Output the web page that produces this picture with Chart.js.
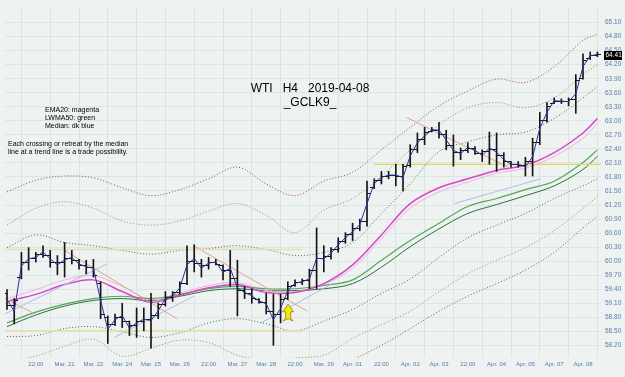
<!DOCTYPE html>
<html><head><meta charset="utf-8">
<script src="https://cdn.jsdelivr.net/npm/chart.js@4.4.1/dist/chart.umd.min.js"></script>
<style>html,body{margin:0;padding:0;background:#eef2f1;overflow:hidden}canvas{display:block}</style>
</head><body>
<canvas id="c" width="625" height="377"></canvas>
<script>
// ---- Price bars (H4), index 0..82 ----
const highs = [59.39,59.20,60.19,60.29,60.19,60.33,60.23,60.12,60.40,60.23,
 60.04,60.02,60.04,59.56,58.83,58.87,59.10,58.72,59.00,59.00,
 59.31,59.10,59.35,59.35,59.56,60.33,60.35,60.04,60.08,60.04,
 59.92,60.23,60.02,59.46,59.41,59.20,59.31,59.29,59.29,59.56,
 59.60,59.62,59.83,60.71,60.33,60.29,60.50,60.61,60.81,60.90,
 61.71,61.76,61.92,61.92,62.07,62.07,62.49,62.74,62.86,62.86,
 62.97,62.80,62.70,62.42,62.53,62.45,62.38,62.76,62.74,62.32,
 62.13,62.13,62.22,62.63,63.18,63.39,63.49,63.47,63.49,63.99,
 64.43,64.47,64.47];
const lows = [58.97,58.66,59.62,59.81,59.98,60.08,59.87,59.71,59.66,59.94,
 59.83,59.73,59.66,58.77,58.24,58.62,58.58,58.41,58.37,58.51,
 58.14,58.77,59.04,59.14,59.29,59.50,59.77,59.66,59.83,59.92,
 59.60,59.46,58.83,59.20,59.10,59.10,58.87,58.20,58.68,59.18,
 59.46,59.50,59.41,59.41,59.77,60.04,60.19,60.38,60.44,60.65,
 60.75,61.55,61.65,61.76,61.61,61.50,62.01,62.32,62.49,62.76,
 62.63,62.38,62.03,62.17,62.32,62.28,62.13,62.07,61.92,62.01,
 62.01,62.01,61.82,61.82,62.49,62.97,63.37,63.37,63.32,63.16,
 63.89,64.31,64.37];
const opens = [59.30,59.05,59.65,59.97,60.06,60.14,60.12,59.98,59.97,60.05,
 60.01,59.91,59.86,59.52,58.80,58.65,58.80,58.70,58.62,58.72,
 58.75,58.83,59.07,59.22,59.34,59.52,59.99,59.95,59.90,59.97,
 59.90,59.80,59.64,59.38,59.30,59.18,59.12,58.92,58.87,59.20,
 59.47,59.55,59.59,59.80,60.05,60.11,60.26,60.43,60.56,60.70,
 60.85,61.58,61.72,61.81,61.84,61.81,62.05,62.39,62.60,62.78,
 62.80,62.70,62.48,62.33,62.37,62.40,62.31,62.34,62.38,62.25,
 62.12,62.07,62.05,62.12,62.53,63.01,63.38,63.42,63.41,63.45,
 63.90,64.33,64.40];
const closes = [59.05,59.15,59.97,60.06,60.14,60.12,59.98,59.97,60.05,60.01,
 59.91,59.86,59.70,58.85,58.65,58.80,58.70,58.62,58.72,58.75,
 58.83,59.07,59.22,59.34,59.52,59.99,59.95,59.90,59.97,59.93,
 59.80,59.64,59.38,59.30,59.20,59.12,58.92,58.87,59.18,59.45,
 59.55,59.59,59.80,60.05,60.11,60.26,60.43,60.56,60.70,60.85,
 61.45,61.72,61.81,61.84,61.81,62.02,62.39,62.60,62.75,62.80,
 62.70,62.48,62.33,62.37,62.40,62.31,62.34,62.38,62.25,62.12,
 62.07,62.05,62.12,62.53,63.01,63.30,63.42,63.41,63.45,63.87,
 64.28,64.40,64.41];
const medians = [59.18,58.93,59.90,60.05,60.08,60.20,60.05,59.92,60.03,60.08,
 59.94,59.88,59.85,59.16,58.54,58.75,58.84,58.57,58.68,58.76,
 58.73,58.94,59.20,59.25,59.43,59.92,60.06,59.85,59.96,59.98,
 59.76,59.85,59.43,59.33,59.26,59.15,59.09,58.75,58.99,59.37,
 59.53,59.56,59.62,60.06,60.05,60.17,60.35,60.50,60.63,60.78,
 61.23,61.66,61.79,61.84,61.84,61.79,62.25,62.53,62.68,62.81,
 62.80,62.59,62.37,62.30,62.43,62.37,62.26,62.42,62.33,62.17,
 62.07,62.07,62.02,62.23,62.84,63.18,63.43,63.42,63.41,63.58,
 64.16,64.39,64.42];

// ---- Indicator lines, sampled at these bar indices ----
const bandIdx = [0,4,8,12,16,20,24,28,32,36,40,44,48,52,56,60,64,68,72,76,80,82];
const upper3 = [61.48,61.73,61.82,61.78,61.57,61.40,61.53,61.76,62.01,61.65,61.40,61.71,61.90,62.38,62.86,63.32,63.64,63.89,63.82,64.16,64.72,64.85];
const upper2 = [60.77,61.13,61.27,61.13,60.86,60.77,60.86,61.07,61.23,60.98,60.61,61.09,61.34,61.82,62.38,62.91,63.28,63.39,63.28,63.49,63.99,64.20];
const upper1 = [60.29,60.56,60.40,60.33,60.23,60.15,60.23,60.27,60.33,60.25,60.12,60.19,60.40,61.02,61.65,62.34,62.55,62.70,62.76,63.05,63.49,63.74];
const ema20  = [59.14,59.29,59.50,59.60,59.35,59.12,59.27,59.43,59.50,59.33,59.33,59.52,59.92,60.56,61.23,61.57,61.76,61.94,62.05,62.32,62.74,63.05];
const ema20b = [59.20,59.39,59.60,59.69,59.46,59.18,59.31,59.48,59.54,59.37,59.35,59.50,59.85,60.48,61.13,61.48,61.69,61.88,61.99,62.24,62.63,62.95];
const lwma50 = [58.68,58.91,59.08,59.20,59.25,59.20,59.29,59.41,59.46,59.41,59.41,59.48,59.60,60.02,60.44,60.81,61.17,61.34,61.53,61.71,62.11,62.38];
const lwma50b= [58.60,58.85,59.04,59.16,59.20,59.16,59.25,59.37,59.41,59.37,59.37,59.41,59.52,59.87,60.31,60.69,61.02,61.21,61.40,61.61,61.96,62.24];
const lower1 = [58.39,58.41,58.56,58.60,58.49,58.37,58.47,58.68,58.77,58.66,58.51,58.72,58.97,59.31,59.62,60.08,60.50,60.77,61.02,61.34,61.61,61.76];
const lower2 = [57.85,57.97,58.18,58.33,57.97,58.14,58.31,58.26,57.99,57.89,57.93,57.99,58.35,58.64,58.93,59.35,59.73,60.02,60.29,60.65,61.13,61.38];
const lower3 = [57.37,57.37,57.57,57.68,57.37,57.47,57.64,57.68,57.37,57.26,57.37,57.57,57.89,58.20,58.56,58.93,59.25,59.52,59.81,60.19,60.71,60.96];

// ---- Trend lines: [startIndex, startPrice, endIndex, endPrice] ----
const salmonTrends = [[-0.3,59.20,3.9,58.87],[8.0,60.23,23.6,58.77],[25.9,60.33,41.7,58.93],[55.5,63.07,69.6,62.01]];
const blueTrends   = [[-0.3,58.87,13.9,59.94],[14.9,58.37,25.9,59.25],[35.3,58.68,45.2,59.52],[62.1,61.23,74.1,61.76]];
const levelLines   = [[-0.3,60.25,41.0,60.25],[-0.3,58.51,41.0,58.51]];
const levelLinesYellow = [[51.0,62.07,83.0,62.07]];

// ---- Axes ----
const xTickIdx = [4,8,12,16,20,24,28,32,36,40,44,48,52,56,60,64,68,72,76,80];
const xTickLabels = ["22:00","Mar. 21","Mar. 22","Mar. 24","Mar. 25","Mar. 26","22:00","Mar. 27","Mar. 28","22:00",
 "Mar. 29","Apr. 01","22:00","Apr. 02","Apr. 03","22:00","Apr. 04","Apr. 05","Apr. 07","Apr. 08"];
const yTicks = [58.20,58.50,58.80,59.10,59.40,59.70,60.00,60.30,60.60,60.90,61.20,61.50,61.80,62.10,62.40,62.70,63.00,63.30,63.60,63.90,64.20,64.50,64.80,65.10];
const lastPrice = 64.41;
const arrowIdx = 39.05, arrowTop = 59.08, arrowBottom = 58.72;

// ---- helpers ----
const pts = (xs, ys) => xs.map((x, i) => ({x: x, y: ys[i]}));
function tickImg(left) {
  const c = document.createElement('canvas'); c.width = 8; c.height = 1;
  const g = c.getContext('2d'); g.fillStyle = '#151515';
  g.fillRect(left ? 0 : 4, 0, 4, 1); return c;
}
const openImg = tickImg(true), closeImg = tickImg(false);

function band(data, color, order) {
  return {type:'line', data: pts(bandIdx, data), borderColor: color, borderWidth: 1, borderDash:[1,2],
    pointRadius:0, tension:0.35, fill:false, order: order};
}
function solid(data, color, width, order) {
  return {type:'line', data: pts(bandIdx, data), borderColor: color, borderWidth: width,
    pointRadius:0, tension:0.35, fill:false, order: order};
}
function segs(list, color, width) {
  return list.map(s => ({type:'line', data:[{x:s[0],y:s[1]},{x:s[2],y:s[3]}], borderColor: color,
    borderWidth: width, pointRadius:0, fill:false, order: 12}));
}

const datasets = [
  band(upper3, '#9a4a48', 20), band(upper2, '#7f9a5c', 20), band(upper1, '#3f7a3f', 20),
  band(lower1, '#3f7a3f', 20), band(lower2, '#7f9a5c', 20), band(lower3, '#9a4a48', 20),
  solid(ema20b, '#eeb0ea', 1, 15), solid(ema20, '#d846c8', 1.5, 14),
  solid(lwma50b, '#2f6f3a', 1, 15), solid(lwma50, '#55a855', 1.2, 14),
  ...segs(levelLines, '#eadfa8', 1.5), ...segs(levelLinesYellow, '#e2d560', 1.3),
  ...segs(salmonTrends, '#e3a193', 1), ...segs(blueTrends, '#aebde8', 1),
  {type:'bar', data: highs.map((h, i) => ({x:i, y:[lows[i], h]})), backgroundColor:'#151515',
    barThickness:1, grouped:false, order:5},
  {type:'line', data: opens.map((v, i) => ({x:i, y:v})), showLine:false, pointStyle: openImg, pointRadius:4, order:4},
  {type:'line', data: closes.map((v, i) => ({x:i, y:v})), showLine:false, pointStyle: closeImg, pointRadius:4, order:4},
  {type:'line', data: medians.map((v, i) => ({x:i, y:v})), borderColor:'#2b2f9c', borderWidth:1, pointRadius:0, tension:0, order:3}
];

const decor = {
  id:'decor',
  beforeDraw(chart) {
    const ctx = chart.ctx; ctx.save(); ctx.fillStyle = '#eef2f1'; ctx.fillRect(0, 0, chart.width, chart.height); ctx.restore();
  },
  afterDraw(chart) {
    const ctx = chart.ctx, xs = chart.scales.x, ys = chart.scales.y;
    ctx.save();
    // arrow
    const ax = xs.getPixelForValue(arrowIdx), at = ys.getPixelForValue(arrowTop), ab = ys.getPixelForValue(arrowBottom);
    const h = ab - at;
    ctx.beginPath();
    ctx.moveTo(ax, at); ctx.lineTo(ax + 5.5, at + h*0.45); ctx.lineTo(ax + 2.5, at + h*0.45);
    ctx.lineTo(ax + 2.5, at + h*0.82); ctx.lineTo(ax + 5, ab); ctx.lineTo(ax, at + h*0.86);
    ctx.lineTo(ax - 5, ab); ctx.lineTo(ax - 2.5, at + h*0.82); ctx.lineTo(ax - 2.5, at + h*0.45);
    ctx.lineTo(ax - 5.5, at + h*0.45); ctx.closePath();
    ctx.fillStyle = '#f7ea00'; ctx.fill(); ctx.strokeStyle = '#8d7d10'; ctx.lineWidth = 0.8; ctx.stroke();
    // texts
    ctx.fillStyle = '#000'; ctx.textBaseline = 'alphabetic';
    ctx.font = '12px "Liberation Sans", Arial, sans-serif'; ctx.textAlign = 'center';
    ctx.fillText('WTI   H4   2019-04-08', 310, 92);
    ctx.fillText('_GCLK9_', 310, 106);
    ctx.font = '7px "Liberation Sans", Arial, sans-serif'; ctx.textAlign = 'left';
    ctx.fillText('EMA20: magenta', 45, 112);
    ctx.fillText('LWMA50: green', 45, 120);
    ctx.fillText('Median: dk blue', 45, 128);
    ctx.fillText('Each crossing or retreat by the median', 8, 146);
    ctx.fillText('line at a trend line is a trade possibility.', 8, 154);
    // last price badge
    const py = ys.getPixelForValue(lastPrice), bx = chart.chartArea.right + 3;
    ctx.fillStyle = '#000'; ctx.fillRect(bx, Math.round(py) - 4, 18, 9);
    ctx.fillStyle = '#fff'; ctx.font = '6.5px "Liberation Sans", Arial, sans-serif';
    ctx.textBaseline = 'middle'; ctx.fillText(lastPrice.toFixed(2), bx + 1.5, Math.round(py) + 0.5);
    ctx.restore();
  }
};

new Chart(document.getElementById('c'), {
  type:'line',
  data:{datasets: datasets},
  options:{
    responsive:false, animation:false, events:[],
    layout:{padding:0},
    plugins:{legend:{display:false}, tooltip:{enabled:false}},
    scales:{
      x:{type:'linear', min:-0.28, max:82.5, offset:false,
        afterBuildTicks: s => { s.ticks = xTickIdx.map(v => ({value:v})); },
        afterFit: s => { s.height = 19; },
        grid:{color:'#dde4e6', lineWidth:1, drawTicks:false},
        border:{display:false},
        ticks:{autoSkip:false, maxRotation:0, padding:3, color:'#5a7cb3',
          font:{family:'"Liberation Sans", Arial, sans-serif', size:6},
          callback:(v, i) => xTickLabels[i]}
      },
      y:{type:'linear', position:'right', min:57.93, max:65.414,
        afterBuildTicks: s => { s.ticks = yTicks.map(v => ({value:v})); },
        afterFit: s => { s.width = 24; },
        grid:{color:'#dde4e6', lineWidth:1, drawTicks:false},
        border:{display:false},
        ticks:{autoSkip:false, padding:4, color:'#5a7cb3',
          font:{family:'"Liberation Sans", Arial, sans-serif', size:6.5},
          callback: v => Number(v).toFixed(2)}
      }
    }
  },
  plugins:[decor]
});
</script>
</body></html>
